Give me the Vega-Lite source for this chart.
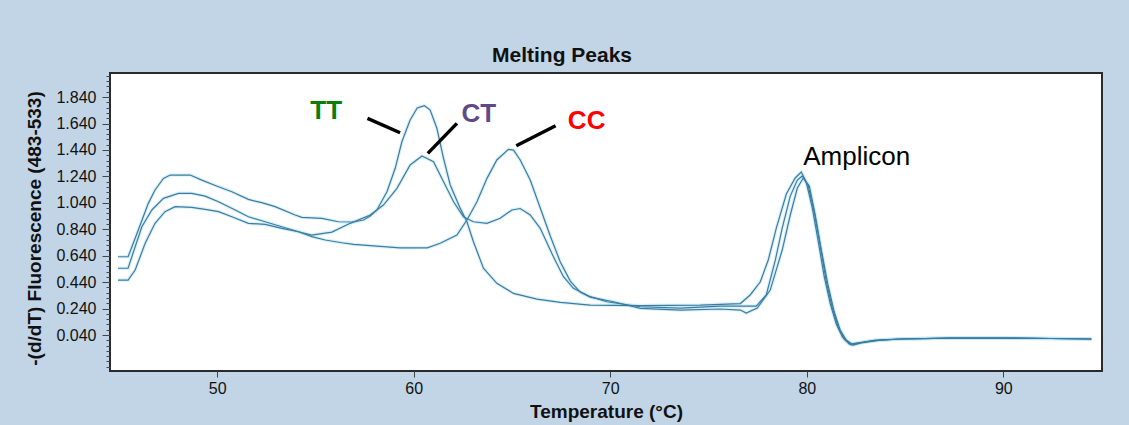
{
  "$schema": "https://vega.github.io/schema/vega-lite/v6.json",
  "width": 992,
  "height": 298,
  "autosize": {"type": "none"},
  "padding": {"left": 110, "top": 73, "right": 27, "bottom": 54},
  "background": "#C1D5E6",
  "title": {
    "text": "Melting Peaks",
    "font": "Liberation Sans",
    "fontSize": 21,
    "fontWeight": "bold",
    "color": "#111111",
    "anchor": "middle",
    "dx": -44,
    "dy": 21,
    "offset": 11,
    "baseline": "alphabetic"
  },
  "datasets": {
    "curves": [
      {"curve": "TT", "t": 44.96, "v": 0.632}, {"curve": "TT", "t": 45.47, "v": 0.632}, {"curve": "TT", "t": 45.99, "v": 0.834},
      {"curve": "TT", "t": 46.5, "v": 1.036}, {"curve": "TT", "t": 46.84, "v": 1.137}, {"curve": "TT", "t": 47.27, "v": 1.225},
      {"curve": "TT", "t": 47.61, "v": 1.25}, {"curve": "TT", "t": 48.63, "v": 1.25}, {"curve": "TT", "t": 49.22, "v": 1.212},
      {"curve": "TT", "t": 50.07, "v": 1.162}, {"curve": "TT", "t": 50.75, "v": 1.124}, {"curve": "TT", "t": 51.59, "v": 1.066},
      {"curve": "TT", "t": 52.27, "v": 1.041}, {"curve": "TT", "t": 52.95, "v": 1.011}, {"curve": "TT", "t": 53.97, "v": 0.948},
      {"curve": "TT", "t": 54.31, "v": 0.93}, {"curve": "TT", "t": 55.33, "v": 0.923}, {"curve": "TT", "t": 56.17, "v": 0.897},
      {"curve": "TT", "t": 56.94, "v": 0.895}, {"curve": "TT", "t": 57.45, "v": 0.91}, {"curve": "TT", "t": 57.79, "v": 0.94},
      {"curve": "TT", "t": 58.13, "v": 0.986}, {"curve": "TT", "t": 58.64, "v": 1.124}, {"curve": "TT", "t": 59.06, "v": 1.301},
      {"curve": "TT", "t": 59.4, "v": 1.502}, {"curve": "TT", "t": 59.82, "v": 1.666}, {"curve": "TT", "t": 60.18, "v": 1.757},
      {"curve": "TT", "t": 60.55, "v": 1.775}, {"curve": "TT", "t": 60.84, "v": 1.742}, {"curve": "TT", "t": 61.18, "v": 1.604},
      {"curve": "TT", "t": 61.52, "v": 1.377}, {"curve": "TT", "t": 61.86, "v": 1.175}, {"curve": "TT", "t": 62.37, "v": 0.998},
      {"curve": "TT", "t": 62.71, "v": 0.897}, {"curve": "TT", "t": 63.04, "v": 0.746}, {"curve": "TT", "t": 63.55, "v": 0.545},
      {"curve": "TT", "t": 64.23, "v": 0.431}, {"curve": "TT", "t": 65.08, "v": 0.355}, {"curve": "TT", "t": 66.27, "v": 0.312},
      {"curve": "TT", "t": 67.46, "v": 0.287}, {"curve": "TT", "t": 68.98, "v": 0.267}, {"curve": "TT", "t": 71.53, "v": 0.263},
      {"curve": "TT", "t": 74.58, "v": 0.267}, {"curve": "TT", "t": 76.62, "v": 0.278}, {"curve": "TT", "t": 77.12, "v": 0.343},
      {"curve": "TT", "t": 77.63, "v": 0.441}, {"curve": "TT", "t": 78.04, "v": 0.607}, {"curve": "TT", "t": 78.45, "v": 0.849},
      {"curve": "TT", "t": 78.96, "v": 1.107}, {"curve": "TT", "t": 79.41, "v": 1.228}, {"curve": "TT", "t": 79.72, "v": 1.273},
      {"curve": "TT", "t": 79.97, "v": 1.197}, {"curve": "TT", "t": 80.28, "v": 1.001}, {"curve": "TT", "t": 80.59, "v": 0.743},
      {"curve": "TT", "t": 80.89, "v": 0.479}, {"curve": "TT", "t": 81.2, "v": 0.274}, {"curve": "TT", "t": 81.5, "v": 0.123},
      {"curve": "TT", "t": 81.81, "v": 0.025}, {"curve": "TT", "t": 82.16, "v": -0.028}, {"curve": "TT", "t": 82.52, "v": -0.021},
      {"curve": "TT", "t": 83.23, "v": -0.005}, {"curve": "TT", "t": 84.76, "v": 0.01}, {"curve": "TT", "t": 87.3, "v": 0.017},
      {"curve": "TT", "t": 89.85, "v": 0.017}, {"curve": "TT", "t": 92.39, "v": 0.014}, {"curve": "TT", "t": 94.48, "v": 0.01},

      {"curve": "CT", "t": 44.96, "v": 0.545}, {"curve": "CT", "t": 45.47, "v": 0.545}, {"curve": "CT", "t": 45.66, "v": 0.632},
      {"curve": "CT", "t": 46.17, "v": 0.859}, {"curve": "CT", "t": 46.68, "v": 0.986}, {"curve": "CT", "t": 47.27, "v": 1.074},
      {"curve": "CT", "t": 48.03, "v": 1.112}, {"curve": "CT", "t": 48.71, "v": 1.112}, {"curve": "CT", "t": 49.39, "v": 1.091},
      {"curve": "CT", "t": 50.07, "v": 1.048}, {"curve": "CT", "t": 50.92, "v": 0.986}, {"curve": "CT", "t": 51.59, "v": 0.935},
      {"curve": "CT", "t": 52.44, "v": 0.897}, {"curve": "CT", "t": 53.29, "v": 0.859}, {"curve": "CT", "t": 54.14, "v": 0.821},
      {"curve": "CT", "t": 54.82, "v": 0.796}, {"curve": "CT", "t": 55.84, "v": 0.819}, {"curve": "CT", "t": 56.77, "v": 0.885},
      {"curve": "CT", "t": 57.79, "v": 0.948}, {"curve": "CT", "t": 58.46, "v": 1.023}, {"curve": "CT", "t": 59.15, "v": 1.15},
      {"curve": "CT", "t": 59.82, "v": 1.326}, {"curve": "CT", "t": 60.42, "v": 1.394}, {"curve": "CT", "t": 61.01, "v": 1.351},
      {"curve": "CT", "t": 61.52, "v": 1.2}, {"curve": "CT", "t": 62.03, "v": 1.048}, {"curve": "CT", "t": 62.53, "v": 0.935},
      {"curve": "CT", "t": 63.04, "v": 0.897}, {"curve": "CT", "t": 63.73, "v": 0.885}, {"curve": "CT", "t": 64.4, "v": 0.923},
      {"curve": "CT", "t": 65.0, "v": 0.986}, {"curve": "CT", "t": 65.42, "v": 0.997}, {"curve": "CT", "t": 65.93, "v": 0.948},
      {"curve": "CT", "t": 66.44, "v": 0.847}, {"curve": "CT", "t": 67.11, "v": 0.632}, {"curve": "CT", "t": 67.62, "v": 0.481},
      {"curve": "CT", "t": 68.13, "v": 0.393}, {"curve": "CT", "t": 68.98, "v": 0.33}, {"curve": "CT", "t": 69.83, "v": 0.292},
      {"curve": "CT", "t": 71.53, "v": 0.254}, {"curve": "CT", "t": 73.56, "v": 0.244}, {"curve": "CT", "t": 75.6, "v": 0.259},
      {"curve": "CT", "t": 77.43, "v": 0.259}, {"curve": "CT", "t": 77.94, "v": 0.343}, {"curve": "CT", "t": 78.4, "v": 0.607},
      {"curve": "CT", "t": 78.75, "v": 0.849}, {"curve": "CT", "t": 79.16, "v": 1.091}, {"curve": "CT", "t": 79.52, "v": 1.212},
      {"curve": "CT", "t": 79.77, "v": 1.243}, {"curve": "CT", "t": 80.08, "v": 1.167}, {"curve": "CT", "t": 80.38, "v": 0.97},
      {"curve": "CT", "t": 80.69, "v": 0.713}, {"curve": "CT", "t": 80.99, "v": 0.448}, {"curve": "CT", "t": 81.3, "v": 0.244},
      {"curve": "CT", "t": 81.6, "v": 0.101}, {"curve": "CT", "t": 81.91, "v": 0.01}, {"curve": "CT", "t": 82.26, "v": -0.036},
      {"curve": "CT", "t": 82.62, "v": -0.021}, {"curve": "CT", "t": 83.49, "v": 0.002}, {"curve": "CT", "t": 84.76, "v": 0.01},
      {"curve": "CT", "t": 87.3, "v": 0.017}, {"curve": "CT", "t": 89.85, "v": 0.017}, {"curve": "CT", "t": 92.39, "v": 0.014},
      {"curve": "CT", "t": 94.48, "v": 0.01},

      {"curve": "CC", "t": 44.96, "v": 0.456}, {"curve": "CC", "t": 45.47, "v": 0.456}, {"curve": "CC", "t": 45.83, "v": 0.532},
      {"curve": "CC", "t": 46.34, "v": 0.734}, {"curve": "CC", "t": 46.84, "v": 0.885}, {"curve": "CC", "t": 47.35, "v": 0.973},
      {"curve": "CC", "t": 47.86, "v": 1.011}, {"curve": "CC", "t": 48.71, "v": 1.006}, {"curve": "CC", "t": 49.39, "v": 0.991},
      {"curve": "CC", "t": 50.07, "v": 0.973}, {"curve": "CC", "t": 50.75, "v": 0.935}, {"curve": "CC", "t": 51.59, "v": 0.885},
      {"curve": "CC", "t": 52.44, "v": 0.877}, {"curve": "CC", "t": 53.29, "v": 0.847}, {"curve": "CC", "t": 54.14, "v": 0.821},
      {"curve": "CC", "t": 54.82, "v": 0.784}, {"curve": "CC", "t": 55.5, "v": 0.759}, {"curve": "CC", "t": 56.35, "v": 0.738},
      {"curve": "CC", "t": 56.94, "v": 0.726}, {"curve": "CC", "t": 58.46, "v": 0.708}, {"curve": "CC", "t": 59.31, "v": 0.7},
      {"curve": "CC", "t": 60.69, "v": 0.7}, {"curve": "CC", "t": 61.35, "v": 0.734}, {"curve": "CC", "t": 62.2, "v": 0.796},
      {"curve": "CC", "t": 62.71, "v": 0.91}, {"curve": "CC", "t": 63.22, "v": 1.048}, {"curve": "CC", "t": 63.73, "v": 1.225},
      {"curve": "CC", "t": 64.23, "v": 1.364}, {"curve": "CC", "t": 64.82, "v": 1.445}, {"curve": "CC", "t": 65.08, "v": 1.439},
      {"curve": "CC", "t": 65.42, "v": 1.364}, {"curve": "CC", "t": 65.93, "v": 1.212}, {"curve": "CC", "t": 66.44, "v": 1.001},
      {"curve": "CC", "t": 66.95, "v": 0.789}, {"curve": "CC", "t": 67.46, "v": 0.592}, {"curve": "CC", "t": 67.97, "v": 0.448},
      {"curve": "CC", "t": 68.47, "v": 0.365}, {"curve": "CC", "t": 68.98, "v": 0.327}, {"curve": "CC", "t": 70.17, "v": 0.292},
      {"curve": "CC", "t": 71.53, "v": 0.242}, {"curve": "CC", "t": 73.56, "v": 0.229}, {"curve": "CC", "t": 75.6, "v": 0.237},
      {"curve": "CC", "t": 76.62, "v": 0.229}, {"curve": "CC", "t": 76.92, "v": 0.206}, {"curve": "CC", "t": 77.48, "v": 0.244},
      {"curve": "CC", "t": 78.14, "v": 0.38}, {"curve": "CC", "t": 78.75, "v": 0.683}, {"curve": "CC", "t": 79.16, "v": 0.948},
      {"curve": "CC", "t": 79.52, "v": 1.152}, {"curve": "CC", "t": 79.82, "v": 1.228}, {"curve": "CC", "t": 80.13, "v": 1.167},
      {"curve": "CC", "t": 80.43, "v": 0.948}, {"curve": "CC", "t": 80.74, "v": 0.683}, {"curve": "CC", "t": 81.09, "v": 0.411},
      {"curve": "CC", "t": 81.4, "v": 0.214}, {"curve": "CC", "t": 81.7, "v": 0.078}, {"curve": "CC", "t": 82.01, "v": 0.002},
      {"curve": "CC", "t": 82.37, "v": -0.036}, {"curve": "CC", "t": 82.72, "v": -0.021}, {"curve": "CC", "t": 83.74, "v": 0.002},
      {"curve": "CC", "t": 84.76, "v": 0.01}, {"curve": "CC", "t": 87.3, "v": 0.017}, {"curve": "CC", "t": 89.85, "v": 0.017},
      {"curve": "CC", "t": 92.39, "v": 0.014}, {"curve": "CC", "t": 94.48, "v": 0.01}
    ],
    "genotypes": [
      {"label": "TT", "t": 55.55, "v": 1.674, "t2": 57.65, "v2": 1.679, "t3": 59.31, "v3": 1.57},
      {"label": "CT", "t": 63.31, "v": 1.653, "t2": 62.2, "v2": 1.641, "t3": 60.72, "v3": 1.414},
      {"label": "CC", "t": 68.8, "v": 1.596, "t2": 67.22, "v2": 1.623, "t3": 65.22, "v3": 1.472}
    ],
    "product": [
      {"label": "Amplicon", "t": 79.82, "v": 1.326}
    ]
  },
  "encoding": {
    "x": {
      "field": "t", "type": "quantitative",
      "scale": {"domain": [44.55, 95.02], "nice": false, "zero": false},
      "axis": {
        "title": "Temperature (°C)",
        "values": [50, 60, 70, 80, 90],
        "grid": false, "domain": false,
        "tickSize": 6, "tickColor": "#444444",
        "labelPadding": 3, "labelFont": "Liberation Sans", "labelFontSize": 16, "labelColor": "#111111",
        "titleFont": "Liberation Sans", "titleFontSize": 19, "titleFontWeight": "bold", "titleColor": "#111111",
        "titleY": 46, "titleBaseline": "alphabetic"
      }
    },
    "y": {
      "field": "v", "type": "quantitative",
      "scale": {"domain": [-0.232, 2.022], "nice": false, "zero": false},
      "axis": {
        "title": "-(d/dT) Fluorescence (483-533)",
        "values": [-0.2, -0.16, -0.12, -0.08, -0.04, 0, 0.04, 0.08, 0.12, 0.16, 0.2, 0.24, 0.28, 0.32, 0.36, 0.4, 0.44, 0.48, 0.52, 0.56, 0.6, 0.64, 0.68, 0.72, 0.76, 0.8, 0.84, 0.88, 0.92, 0.96, 1, 1.04, 1.08, 1.12, 1.16, 1.2, 1.24, 1.28, 1.32, 1.36, 1.4, 1.44, 1.48, 1.52, 1.56, 1.6, 1.64, 1.68, 1.72, 1.76, 1.8, 1.84, 1.88, 1.92, 1.96, 2],
        "labelExpr": "indexof([0.04, 0.24, 0.44, 0.64, 0.84, 1.04, 1.24, 1.44, 1.64, 1.84], round(datum.value * 100) / 100) >= 0 ? format(datum.value, '.3f') : ''",
        "tickSize": {"condition": {"test": "indexof([0.04, 0.24, 0.44, 0.64, 0.84, 1.04, 1.24, 1.44, 1.64, 1.84], round(datum.value * 100) / 100) >= 0", "value": 8}, "value": 4},
        "grid": false, "domain": false, "tickColor": "#444444",
        "labelPadding": 6, "labelFont": "Liberation Sans", "labelFontSize": 16, "labelColor": "#111111",
        "titleFont": "Liberation Sans", "titleFontSize": 19, "titleFontWeight": "bold", "titleColor": "#111111",
        "titleX": -76, "titleY": 155, "titleAngle": -90, "titleAlign": "center", "titleBaseline": "middle"
      }
    }
  },
  "layer": [
    {
      "data": {"name": "curves"},
      "mark": {"type": "line", "stroke": "#BEE4F4", "strokeWidth": 3.5, "opacity": 0.55},
      "encoding": {"detail": {"field": "curve"}}
    },
    {
      "data": {"name": "curves"},
      "mark": {"type": "line", "stroke": "#3B7CA0", "strokeWidth": 1.2},
      "encoding": {"detail": {"field": "curve"}}
    },
    {
      "data": {"name": "genotypes"},
      "mark": {"type": "rule", "stroke": "#000000", "strokeWidth": 3.5},
      "encoding": {
        "x": {"field": "t2", "type": "quantitative"},
        "y": {"field": "v2", "type": "quantitative"},
        "x2": {"field": "t3"},
        "y2": {"field": "v3"}
      }
    },
    {
      "data": {"name": "genotypes"},
      "mark": {"type": "text", "font": "Liberation Sans", "fontSize": 26, "fontWeight": "bold", "align": "center", "baseline": "alphabetic"},
      "encoding": {
        "text": {"field": "label"},
        "color": {
          "field": "label", "type": "nominal",
          "scale": {"domain": ["TT", "CT", "CC"], "range": ["#0A7D0A", "#5E4A88", "#FF0000"]},
          "legend": null
        }
      }
    },
    {
      "data": {"name": "product"},
      "mark": {"type": "text", "font": "Liberation Sans", "fontSize": 26, "color": "#000000", "align": "left", "baseline": "alphabetic"},
      "encoding": {"text": {"field": "label"}}
    }
  ],
  "config": {
    "view": {"fill": "#FFFFFF", "stroke": "#2A2A2A", "strokeWidth": 2}
  }
}
